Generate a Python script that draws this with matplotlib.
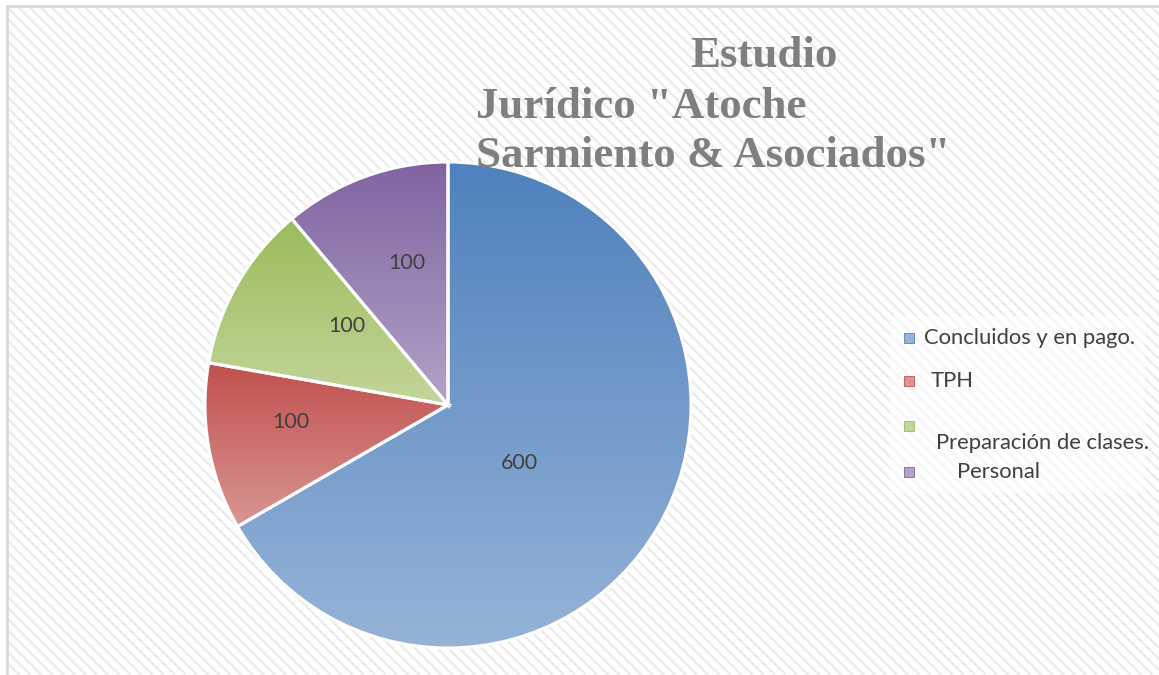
import numpy as np
import matplotlib
matplotlib.use("Agg")
import matplotlib.pyplot as plt
from matplotlib.patches import Rectangle
from matplotlib.lines import Line2D
from matplotlib.colors import to_rgb

# data ---------------------------------------------------------------------
categories = ["Concluidos y en pago.", "TPH", "Preparación de clases.", "Personal"]
values = [600, 100, 100, 100]
title_lines = ["Estudio", "Jurídico \"Atoche", "Sarmiento & Asociados\""]

# style --------------------------------------------------------------------
top_colors = ["#4f81bd", "#c0504d", "#9bbb59", "#8064a2"]
bottom_colors = ["#95b3d7", "#d99694", "#c3d69b", "#b3a2c7"]
label_r = [0.38, 0.65, 0.53, 0.61]
label_dang = [-9, -4, -8, -4]
W, H = 1159, 675

plt.rcParams["hatch.linewidth"] = 1.6

fig = plt.figure(figsize=(W / 100, H / 100), dpi=100)
fig.patch.set_facecolor("white")

# patterned chart background with grey left/top border
bg = Rectangle((8 / W, 0), 1 - 8 / W, 1 - 7 / H, transform=fig.transFigure,
               facecolor="white", edgecolor="#ebebeb", hatch="\\\\\\", linewidth=0, zorder=-2)
fig.patches.append(bg)
fig.add_artist(Line2D([7 / W, 7 / W], [0, 1 - 6 / H], color="#d9d9d9", linewidth=2, transform=fig.transFigure))
fig.add_artist(Line2D([7 / W, 1], [1 - 6 / H, 1 - 6 / H], color="#d9d9d9", linewidth=2, transform=fig.transFigure))

# pie ----------------------------------------------------------------------
cx, cy, R = 448, 405, 243
ax = fig.add_axes([(cx - R) / W, (H - cy - R) / H, 2 * R / W, 2 * R / H])
wedges, _ = ax.pie(values, startangle=90, counterclock=False, radius=1,
                   wedgeprops=dict(facecolor="none", edgecolor="white", linewidth=2.2))

for i, w in enumerate(wedges):
    ext = w.get_path().get_extents()
    c0 = np.array(to_rgb(top_colors[i]))
    c1 = np.array(to_rgb(bottom_colors[i]))
    t = np.linspace(0, 1, 256)[:, None, None]
    grad = c0 * (1 - t) + c1 * t
    im = ax.imshow(grad, extent=[ext.x0, ext.x1, ext.y0, ext.y1], origin="upper",
                   aspect="auto", interpolation="bilinear", zorder=1)
    im.set_clip_path(w)
    w.set_zorder(2)

    ang = np.deg2rad((w.theta1 + w.theta2) / 2 + label_dang[i])
    ax.text(label_r[i] * np.cos(ang), label_r[i] * np.sin(ang), str(values[i]),
            ha="center", va="center", fontsize=15.5, family="Lato", color="#404040", zorder=3)

ax.set_xlim(-1, 1)
ax.set_ylim(-1, 1)
ax.set_aspect("equal")
ax.axis("off")

# title ----------------------------------------------------------------------
title_x = [690, 476, 476]
title_y = [67, 118, 167]
for txt, x, y in zip(title_lines, title_x, title_y):
    fig.text(x / W, 1 - y / H, txt, ha="left", va="baseline", fontsize=32.3,
             family="Liberation Serif", fontweight="bold", color="#7f7f7f", zorder=5)

# legend ---------------------------------------------------------------------
fig.patches.append(Rectangle((890 / W, 1 - 493 / H), 255 / W, 177 / H, transform=fig.transFigure,
                             facecolor="white", alpha=0.6, edgecolor="none", zorder=-1))
marker_y = [338, 381, 426, 472]
text_dx = [0, 7, 12, 33]
text_dy = [0, 0, 17, 0]
for i, lab in enumerate(categories):
    fig.add_artist(Line2D([909 / W], [1 - marker_y[i] / H], marker="s", markersize=6.5,
                          color=top_colors[i], markerfacecolor=bottom_colors[i],
                          markeredgecolor=top_colors[i], markeredgewidth=0.6,
                          linestyle="none", transform=fig.transFigure))
    fig.text((924 + text_dx[i]) / W, 1 - (marker_y[i] + text_dy[i]) / H, lab,
             ha="left", va="center", fontsize=15.8, family="Lato", color="#404040")

fig.savefig("out.png", dpi=100)
